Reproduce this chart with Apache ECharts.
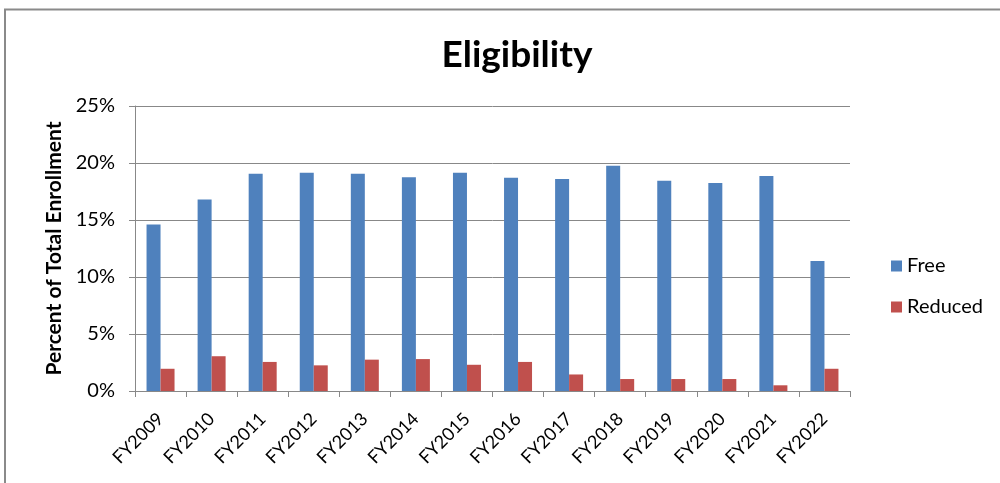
<!DOCTYPE html>
<html><head><meta charset="utf-8">
<script src="https://cdn.jsdelivr.net/npm/echarts@6/dist/echarts.min.js"></script>
<style>html,body{margin:0;padding:0;background:#fff}#c{width:1000px;height:483px}</style>
</head><body><div id="c"></div>
<script>
const categories = ['FY2009','FY2010','FY2011','FY2012','FY2013','FY2014','FY2015','FY2016','FY2017','FY2018','FY2019','FY2020','FY2021','FY2022'];
const freeValues = [14.6, 16.8, 19.05, 19.15, 19.05, 18.75, 19.15, 18.7, 18.6, 19.75, 18.45, 18.25, 18.85, 11.4];
const reducedValues = [1.95, 3.05, 2.55, 2.25, 2.75, 2.8, 2.3, 2.55, 1.45, 1.05, 1.05, 1.05, 0.5, 1.95];
const yTicks = [0, 5, 10, 15, 20, 25];

const chart = echarts.init(document.getElementById('c'));
const font = 'Lato, "Open Sans", sans-serif';
chart.setOption({
  animation: false,
  textStyle: { fontFamily: font },
  title: { text: 'Eligibility', left: 512, textAlign: 'center', top: 32,
    textStyle: { fontFamily: font, fontWeight: 'bold', fontSize: 37, color: '#000' } },
  graphic: [{ type: 'polyline', shape: { points: [[5, 490], [5, 9.5], [1005, 9.5]] },
    style: { stroke: '#8a8a8a', lineWidth: 2, fill: null } }],
  legend: { orient: 'vertical', left: 886, top: 251, itemWidth: 11, itemHeight: 11, itemGap: 21,
    icon: 'rect', textStyle: { fontFamily: font, fontSize: 20, color: '#000' },
    data: ['Free', 'Reduced'] },
  grid: { left: 135, right: 150, top: 106, bottom: 92 },
  xAxis: { type: 'category', data: categories,
    axisLine: { lineStyle: { color: '#888' } },
    axisTick: { show: true, length: 6, lineStyle: { color: '#888' } },
    axisLabel: { rotate: 45, fontSize: 18, color: '#000', margin: 25, interval: 0 } },
  yAxis: { type: 'value', min: 0, max: 25, interval: 5,
    name: 'Percent of Total Enrollment', nameLocation: 'middle', nameGap: 66, nameRotate: 90,
    nameTextStyle: { fontFamily: font, fontWeight: 'bold', fontSize: 21, color: '#000' },
    axisLine: { show: true, lineStyle: { color: '#888' } },
    axisTick: { show: true, length: 6, lineStyle: { color: '#888' } },
    splitLine: { lineStyle: { color: '#888', width: 1 } },
    axisLabel: { fontSize: 20, color: '#000', margin: 20,
      formatter: v => yTicks.includes(v) ? v + '%' : '' } },
  series: [
    { name: 'Free', type: 'bar', data: freeValues, barWidth: 14, barGap: '0%',
      itemStyle: { color: '#4F81BD' } },
    { name: 'Reduced', type: 'bar', data: reducedValues, barWidth: 14, barGap: '0%',
      itemStyle: { color: '#C0504D' } }
  ]
});
</script></body></html>
